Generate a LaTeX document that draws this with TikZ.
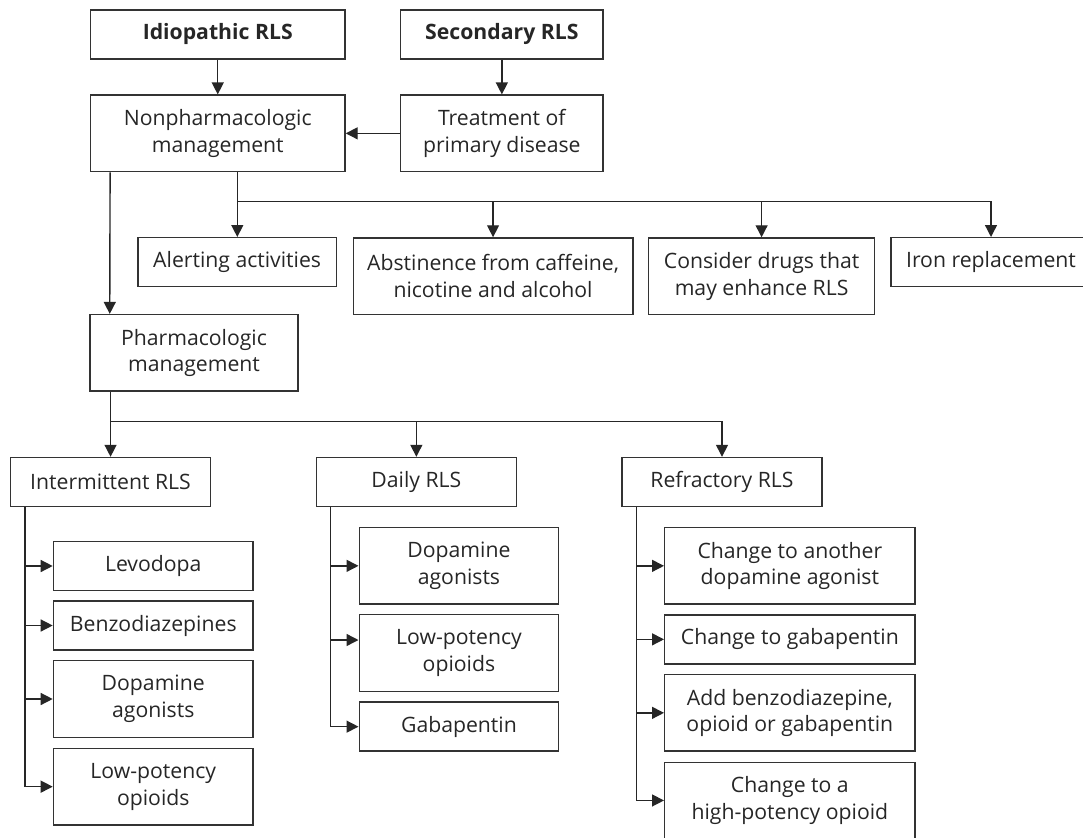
\documentclass[tikz,border=0pt]{standalone}
\usepackage{fontspec}
\setmainfont{Open Sans}
\usetikzlibrary{arrows.meta}

\tikzset{
	box/.style={draw=black!80, line width=1.4pt, text=black!85, align=center, inner sep=0pt, font=\fontsize{21.2}{26.7}\selectfont},
	one/.style={minimum height=49pt},
	two/.style={minimum height=76.5pt},
	ln/.style={draw=black!85, line width=1.4pt},
	arr/.style={ln, -{Triangle[length=12pt,width=12pt]}},
}

\begin{document}
\begin{tikzpicture}[x=1pt, y=-1pt]
	\useasboundingbox (0,0) rectangle (1083,837);

	% top rows
	\node[box, one, minimum width=254.5pt] (idio) at (217.75,34.35) {\textbf{Idiopathic RLS}};
	\node[box, one, minimum width=202.3pt] (second) at (501.85,34.35) {\textbf{Secondary RLS}};
	\node[box, two, minimum width=254.5pt] (nonph) at (217.75,133.35) {Nonpharmacologic\\management};
	\node[box, two, minimum width=202.3pt] (treat) at (501.85,133.35) {Treatment of\\primary disease};

	\draw[arr] (idio) -- (nonph);
	\draw[arr] (second) -- (treat);
	\draw[arr] (treat) -- (nonph);

	% nonpharmacologic measures
	\node[box, one, minimum width=198.7pt] (alert) at (237.15,262.2) {Alerting activities};
	\node[box, two, minimum width=279.5pt] (abst) at (493.05,276.2) {Abstinence from caffeine,\\nicotine and alcohol};
	\node[box, two, minimum width=225.8pt] (consid) at (761.6,276.2) {Consider drugs that\\may enhance RLS};
	\node[box, one, minimum width=200pt] (iron) at (991,262.2) {Iron replacement};

	\coordinate (nj) at (237.3,201.7);
	\draw[arr] (nonph.south -| nj) -- (alert.north -| nj);
	\draw[arr] (nj) -| (iron);
	\draw[arr] (nj -| abst) -- (abst);
	\draw[arr] (nj -| consid) -- (consid);

	% pharmacologic
	\node[box, two, minimum width=207.7pt] (pharm) at (194,352.85) {Pharmacologic\\management};
	\draw[arr] ([xshift=20.3pt]nonph.south west) -- ([xshift=20.3pt]pharm.north west);

	\node[box, one, minimum width=199.7pt] (inter) at (110.55,482) {Intermittent RLS};
	\node[box, one, minimum width=199.7pt] (daily) at (416.35,482) {Daily RLS};
	\node[box, one, minimum width=199.7pt] (refr) at (722,482) {Refractory RLS};

	\coordinate (pj) at (110.55,421.7);
	\draw[arr] (pharm.south -| pj) -- (inter);
	\draw[arr] (pj) -| (refr);
	\draw[arr] (pj -| daily) -- (daily);

	% intermittent
	\node[box, one, minimum width=199.7pt] (levo) at (153.25,566) {Levodopa};
	\node[box, one, minimum width=199.7pt] (benzo) at (153.25,625.5) {Benzodiazepines};
	\node[box, two, minimum width=199.7pt] (idopa) at (153.25,699) {Dopamine\\agonists};
	\node[box, two, minimum width=199.7pt] (ilow) at (153.25,786.65) {Low-potency\\opioids};

	\coordinate (iv) at ([xshift=14.8pt]inter.south west);
	\draw[arr] (iv) |- (ilow);
	\foreach \n in {levo,benzo,idopa}
		\draw[arr] (iv |- \n.west) -- (\n.west);

	% daily
	\node[box, two, minimum width=199.5pt] (ddopa) at (458.95,565.85) {Dopamine\\agonists};
	\node[box, two, minimum width=199.5pt] (dlow) at (458.95,653) {Low-potency\\opioids};
	\node[box, one, minimum width=199.5pt] (dgaba) at (458.95,726.65) {Gabapentin};

	\coordinate (dv) at ([xshift=14.8pt]daily.south west);
	\draw[arr] (dv) |- (dgaba);
	\draw[arr] (dv |- ddopa.west) -- (ddopa.west);
	\draw[arr] (dv |- 0,640) -- (dlow.west |- 0,640);

	% refractory
	\node[box, two, minimum width=250.3pt] (ranother) at (789.85,565.85) {Change to another\\dopamine agonist};
	\node[box, one, minimum width=250.3pt] (rgaba) at (789.85,639.35) {Change to gabapentin};
	\node[box, two, minimum width=250.3pt] (radd) at (789.85,712.85) {Add benzodiazepine,\\opioid or gabapentin};
	\node[box, two, minimum width=250.3pt] (rhigh) at (789.85,800.45) {Change to a\\high-potency opioid};

	\coordinate (rv) at ([xshift=14.9pt]refr.south west);
	\draw[arr] (rv) |- (rhigh);
	\foreach \n in {ranother,rgaba,radd}
		\draw[arr] (rv |- \n.west) -- (\n.west);

\end{tikzpicture}
\end{document}
